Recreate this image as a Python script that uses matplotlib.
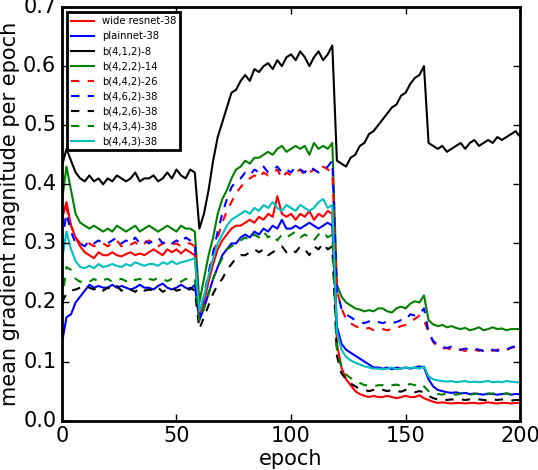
import matplotlib
matplotlib.use("Agg")
import matplotlib.pyplot as plt

# epochs sampled every 2
epochs = list(range(0, 201, 2))

wide_resnet = [0.34, 0.37, 0.33, 0.31, 0.295, 0.285, 0.28, 0.275, 0.285, 0.28,
               0.28, 0.285, 0.28, 0.278, 0.282, 0.285, 0.28, 0.283, 0.28, 0.285,
               0.29, 0.285, 0.28, 0.29, 0.285, 0.29, 0.283, 0.29, 0.285, 0.28,
               0.18, 0.20, 0.235, 0.265, 0.29, 0.305, 0.315, 0.325, 0.33, 0.33,
               0.335, 0.34, 0.335, 0.345, 0.34, 0.35, 0.345, 0.38, 0.35, 0.345,
               0.35, 0.34, 0.35, 0.345, 0.355, 0.34, 0.35, 0.345, 0.355, 0.35,
               0.13, 0.09, 0.07, 0.06, 0.05, 0.045, 0.042, 0.04, 0.042, 0.04,
               0.04, 0.042, 0.04, 0.038, 0.04, 0.042, 0.04, 0.04, 0.043, 0.038,
               0.035, 0.032, 0.03, 0.031, 0.03, 0.029, 0.03, 0.03, 0.029, 0.03,
               0.03, 0.029, 0.03, 0.031, 0.03, 0.029, 0.03, 0.03, 0.029, 0.03,
               0.03]

plainnet = [0.13, 0.175, 0.18, 0.20, 0.21, 0.22, 0.23, 0.225, 0.228, 0.225,
            0.225, 0.23, 0.225, 0.228, 0.225, 0.222, 0.225, 0.23, 0.225, 0.225,
            0.222, 0.228, 0.232, 0.225, 0.222, 0.225, 0.23, 0.225, 0.222, 0.23,
            0.17, 0.19, 0.215, 0.24, 0.26, 0.28, 0.29, 0.30, 0.30, 0.31,
            0.315, 0.31, 0.32, 0.315, 0.325, 0.32, 0.33, 0.325, 0.34, 0.325,
            0.325, 0.33, 0.325, 0.33, 0.335, 0.33, 0.325, 0.33, 0.335, 0.33,
            0.16, 0.13, 0.12, 0.115, 0.11, 0.105, 0.10, 0.095, 0.09, 0.09,
            0.088, 0.09, 0.087, 0.09, 0.088, 0.09, 0.088, 0.09, 0.092, 0.09,
            0.07, 0.058, 0.052, 0.05, 0.048, 0.047, 0.048, 0.046, 0.047, 0.045,
            0.046, 0.045, 0.044, 0.046, 0.045, 0.044, 0.045, 0.046, 0.044, 0.045,
            0.045]

b412_8 = [0.43, 0.46, 0.44, 0.42, 0.41, 0.405, 0.415, 0.405, 0.41, 0.40,
          0.41, 0.405, 0.415, 0.41, 0.405, 0.41, 0.42, 0.405, 0.41, 0.41,
          0.415, 0.405, 0.41, 0.42, 0.41, 0.425, 0.415, 0.41, 0.425, 0.42,
          0.325, 0.35, 0.39, 0.44, 0.48, 0.505, 0.53, 0.555, 0.56, 0.575,
          0.585, 0.575, 0.595, 0.59, 0.60, 0.605, 0.595, 0.61, 0.60, 0.615,
          0.62, 0.61, 0.625, 0.615, 0.60, 0.615, 0.625, 0.61, 0.62, 0.635,
          0.44, 0.435, 0.43, 0.445, 0.45, 0.465, 0.47, 0.485, 0.49, 0.50,
          0.51, 0.52, 0.53, 0.535, 0.55, 0.555, 0.57, 0.58, 0.585, 0.60,
          0.47, 0.465, 0.46, 0.465, 0.455, 0.46, 0.465, 0.47, 0.46, 0.47,
          0.475, 0.465, 0.47, 0.475, 0.47, 0.48, 0.475, 0.48, 0.485, 0.49,
          0.48]

b422_14 = [0.37, 0.43, 0.39, 0.35, 0.335, 0.33, 0.325, 0.33, 0.325, 0.32,
           0.325, 0.32, 0.33, 0.325, 0.32, 0.325, 0.33, 0.32, 0.325, 0.33,
           0.325, 0.32, 0.325, 0.33, 0.325, 0.32, 0.33, 0.325, 0.325, 0.32,
           0.20, 0.24, 0.28, 0.31, 0.35, 0.375, 0.39, 0.41, 0.425, 0.43,
           0.44, 0.435, 0.445, 0.445, 0.45, 0.455, 0.45, 0.46, 0.465, 0.455,
           0.46, 0.465, 0.46, 0.465, 0.45, 0.47, 0.46, 0.465, 0.46, 0.47,
           0.23, 0.21, 0.20, 0.195, 0.19, 0.188, 0.185, 0.187, 0.185, 0.19,
           0.19, 0.185, 0.183, 0.19, 0.193, 0.19, 0.198, 0.202, 0.20, 0.212,
           0.17, 0.163, 0.16, 0.162, 0.158, 0.16, 0.157, 0.155, 0.157, 0.153,
           0.155, 0.158, 0.153, 0.155, 0.158, 0.155, 0.156, 0.153, 0.155, 0.155,
           0.155]

b442_26 = [0.33, 0.36, 0.33, 0.31, 0.30, 0.295, 0.30, 0.295, 0.30, 0.30,
           0.295, 0.30, 0.305, 0.295, 0.30, 0.298, 0.302, 0.295, 0.30, 0.305,
           0.30, 0.295, 0.30, 0.302, 0.298, 0.30, 0.295, 0.30, 0.30, 0.295,
           0.185, 0.21, 0.245, 0.28, 0.31, 0.335, 0.355, 0.37, 0.385, 0.395,
           0.405, 0.41, 0.415, 0.41, 0.42, 0.415, 0.42, 0.425, 0.41, 0.42,
           0.415, 0.42, 0.425, 0.415, 0.42, 0.425, 0.42, 0.43, 0.425, 0.42,
           0.22, 0.19, 0.172, 0.165, 0.16, 0.157, 0.155, 0.157, 0.153, 0.155,
           0.155, 0.153, 0.155, 0.157, 0.16, 0.162, 0.168, 0.172, 0.178, 0.17,
           0.15, 0.133, 0.125, 0.122, 0.123, 0.12, 0.122, 0.12, 0.118, 0.12,
           0.12, 0.118, 0.12, 0.122, 0.118, 0.12, 0.122, 0.12, 0.123, 0.125,
           0.122]

b462_38 = [0.30, 0.35, 0.32, 0.30, 0.30, 0.295, 0.305, 0.30, 0.305, 0.30,
           0.30, 0.305, 0.31, 0.30, 0.305, 0.30, 0.31, 0.30, 0.305, 0.30,
           0.305, 0.31, 0.30, 0.305, 0.30, 0.305, 0.30, 0.31, 0.305, 0.30,
           0.175, 0.21, 0.25, 0.285, 0.32, 0.35, 0.375, 0.395, 0.405, 0.41,
           0.42, 0.415, 0.425, 0.42, 0.43, 0.42, 0.425, 0.43, 0.42, 0.425,
           0.42, 0.43, 0.425, 0.42, 0.43, 0.425, 0.42, 0.425, 0.43, 0.44,
           0.22, 0.19, 0.18, 0.175, 0.17, 0.167, 0.165, 0.168, 0.165, 0.167,
           0.165, 0.168, 0.165, 0.167, 0.17, 0.17, 0.18, 0.178, 0.18, 0.19,
           0.15, 0.135, 0.128, 0.125, 0.123, 0.125, 0.122, 0.12, 0.122, 0.12,
           0.122, 0.12, 0.118, 0.122, 0.12, 0.118, 0.122, 0.12, 0.124, 0.126,
           0.124]

b426_38 = [0.20, 0.215, 0.22, 0.222, 0.225, 0.228, 0.225, 0.222, 0.226, 0.22,
           0.225, 0.222, 0.228, 0.22, 0.225, 0.222, 0.218, 0.225, 0.22, 0.222,
           0.22, 0.225, 0.218, 0.222, 0.225, 0.22, 0.222, 0.218, 0.225, 0.22,
           0.155, 0.175, 0.195, 0.215, 0.23, 0.24, 0.255, 0.265, 0.275, 0.28,
           0.28, 0.285, 0.29, 0.285, 0.29, 0.28, 0.285, 0.29, 0.295, 0.285,
           0.29, 0.285, 0.295, 0.29, 0.28, 0.295, 0.29, 0.30, 0.29, 0.295,
           0.11, 0.08, 0.07, 0.063, 0.058, 0.054, 0.052, 0.05, 0.052, 0.05,
           0.052, 0.05, 0.052, 0.05, 0.049, 0.052, 0.05, 0.048, 0.05, 0.048,
           0.042, 0.038, 0.036, 0.037, 0.035, 0.036, 0.035, 0.036, 0.035, 0.036,
           0.035, 0.036, 0.035, 0.034, 0.036, 0.035, 0.036, 0.035, 0.034, 0.035,
           0.035]

b434_38 = [0.20, 0.26, 0.255, 0.24, 0.235, 0.238, 0.235, 0.24, 0.235, 0.238,
           0.24, 0.235, 0.238, 0.24, 0.236, 0.242, 0.238, 0.24, 0.236, 0.24,
           0.238, 0.242, 0.24, 0.236, 0.24, 0.238, 0.235, 0.24, 0.238, 0.24,
           0.17, 0.19, 0.215, 0.24, 0.26, 0.275, 0.29, 0.295, 0.30, 0.305,
           0.31, 0.305, 0.315, 0.31, 0.32, 0.31, 0.315, 0.305, 0.315, 0.31,
           0.315, 0.32, 0.31, 0.315, 0.31, 0.305, 0.315, 0.32, 0.31, 0.315,
           0.12, 0.09, 0.078, 0.072, 0.068, 0.064, 0.06, 0.06, 0.058, 0.06,
           0.06, 0.058, 0.06, 0.061, 0.059, 0.06, 0.062, 0.06, 0.063, 0.058,
           0.05, 0.046, 0.045, 0.044, 0.046, 0.045, 0.044, 0.046, 0.045, 0.044,
           0.045, 0.046, 0.044, 0.045, 0.046, 0.045, 0.044, 0.046, 0.045, 0.046,
           0.045]

b443_38 = [0.27, 0.32, 0.29, 0.27, 0.26, 0.258, 0.262, 0.258, 0.265, 0.26,
           0.262, 0.265, 0.262, 0.26, 0.265, 0.262, 0.268, 0.265, 0.262, 0.265,
           0.265, 0.262, 0.268, 0.265, 0.27, 0.265, 0.268, 0.27, 0.272, 0.275,
           0.185, 0.21, 0.245, 0.275, 0.30, 0.315, 0.33, 0.34, 0.345, 0.35,
           0.355, 0.35, 0.36, 0.355, 0.365, 0.36, 0.37, 0.36, 0.355, 0.365,
           0.36, 0.355, 0.365, 0.36, 0.355, 0.36, 0.37, 0.375, 0.36, 0.365,
           0.15, 0.12, 0.108, 0.102, 0.098, 0.095, 0.092, 0.09, 0.088, 0.088,
           0.087, 0.088, 0.09, 0.087, 0.088, 0.09, 0.089, 0.09, 0.088, 0.092,
           0.075, 0.07, 0.068, 0.067, 0.066, 0.067, 0.065, 0.066, 0.067, 0.065,
           0.066, 0.065, 0.066, 0.067, 0.065, 0.066, 0.065, 0.067, 0.066, 0.065,
           0.065]

series = [
    (wide_resnet, "r-", "wide resnet-38"),
    (plainnet, "b-", "plainnet-38"),
    (b412_8, "k-", "b(4,1,2)-8"),
    (b422_14, "g-", "b(4,2,2)-14"),
    (b442_26, "r--", "b(4,4,2)-26"),
    (b462_38, "b--", "b(4,6,2)-38"),
    (b426_38, "k--", "b(4,2,6)-38"),
    (b434_38, "g--", "b(4,3,4)-38"),
    (b443_38, "c-", "b(4,4,3)-38"),
]

plt.style.use("classic")
fig = plt.figure(figsize=(5.38, 4.70), dpi=100, facecolor="white")
ax = fig.add_axes([0.115, 0.105, 0.852, 0.880])

for vals, fmt, name in series:
    ax.plot(epochs, vals, fmt, lw=1.5, label=name)

ax.set_xlim(0, 200)
ax.set_ylim(0, 0.7)
ax.set_xticks([0, 50, 100, 150, 200])
ax.tick_params(labelsize=15, width=1, length=5)
for sp in ax.spines.values():
    sp.set_linewidth(2)
ax.set_xlabel("epoch", fontsize=15, labelpad=2)
ax.set_ylabel("mean gradient magnitude per epoch", fontsize=15, labelpad=2)

leg = ax.legend(loc="upper left", fontsize=7.2, handlelength=2.3,
                labelspacing=0.5, borderaxespad=0.5, numpoints=1)
leg.get_frame().set_linewidth(2)

fig.savefig("out.png", dpi=100, facecolor="white")
